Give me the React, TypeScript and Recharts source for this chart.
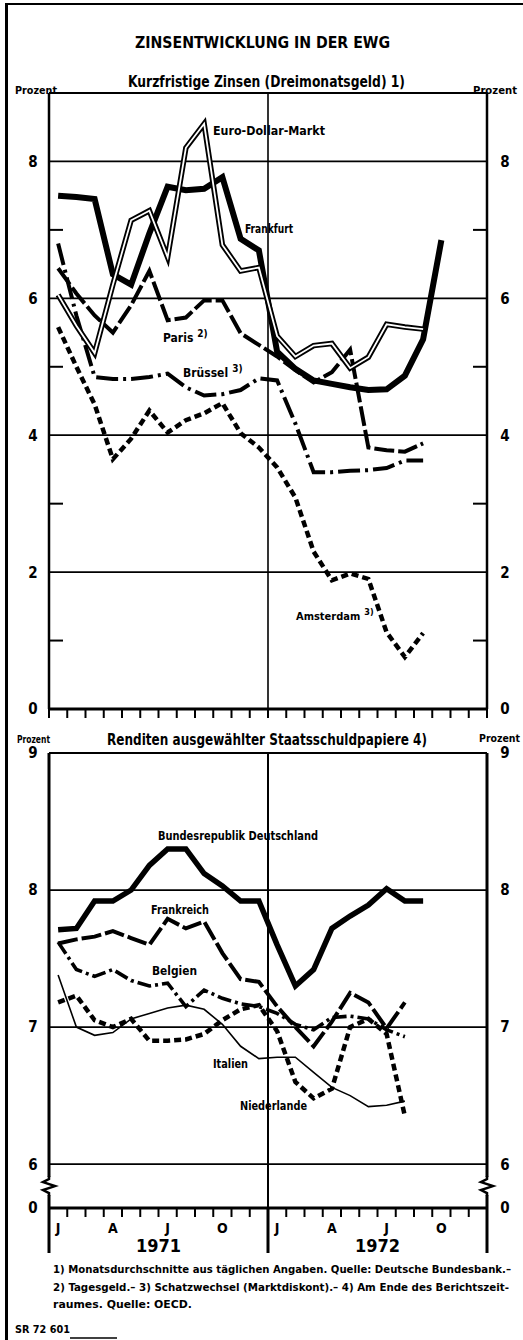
import React from 'react'
import { LineChart, Line, XAxis, YAxis, ReferenceLine } from 'recharts'

// Jan 1971 .. Dec 1972, one value per month (monthly averages / end of month)
const months = [
  'Jan 71', 'Feb 71', 'Mär 71', 'Apr 71', 'Mai 71', 'Jun 71', 'Jul 71', 'Aug 71', 'Sep 71', 'Okt 71', 'Nov 71', 'Dez 71',
  'Jan 72', 'Feb 72', 'Mär 72', 'Apr 72', 'Mai 72', 'Jun 72', 'Jul 72', 'Aug 72', 'Sep 72', 'Okt 72', 'Nov 72', 'Dez 72',
]
const quarterLabels = ['J', 'A', 'J', 'O', 'J', 'A', 'J', 'O']
const years = ['1971', '1972']

// Kurzfristige Zinsen (Dreimonatsgeld)
const frankfurt = [7.5, 7.48, 7.45, 6.35, 6.2, 6.95, 7.63, 7.58, 7.6, 7.77, 6.87, 6.7, 5.22, 4.97, 4.8, 4.75, 4.7, 4.66, 4.67, 4.87, 5.4, 6.85]
const euroDollar = [6.05, 5.6, 5.2, 6.2, 7.14, 7.28, 6.6, 8.2, 8.55, 6.78, 6.4, 6.45, 5.45, 5.15, 5.31, 5.34, 4.98, 5.14, 5.62, 5.58, 5.55]
const paris = [6.44, 6.07, 5.75, 5.5, 5.9, 6.4, 5.68, 5.72, 5.97, 5.97, 5.49, 5.32, 5.15, 4.95, 4.77, 4.92, 5.25, 3.82, 3.78, 3.76, 3.88]
const bruessel = [6.8, 5.75, 4.85, 4.82, 4.82, 4.85, 4.9, 4.7, 4.58, 4.6, 4.66, 4.83, 4.8, 4.17, 3.46, 3.46, 3.48, 3.49, 3.52, 3.63, 3.63]
const amsterdam = [5.58, 5.0, 4.45, 3.65, 3.95, 4.36, 4.04, 4.22, 4.32, 4.47, 4.03, 3.82, 3.53, 3.09, 2.3, 1.88, 1.98, 1.9, 1.12, 0.76, 1.11]

// Renditen ausgewählter Staatsschuldpapiere
const brd = [7.71, 7.72, 7.92, 7.92, 8.0, 8.18, 8.3, 8.3, 8.12, 8.03, 7.92, 7.92, 7.6, 7.3, 7.42, 7.72, 7.81, 7.89, 8.01, 7.92, 7.92]
const frankreich = [7.61, 7.64, 7.66, 7.7, 7.65, 7.6, 7.79, 7.72, 7.77, 7.54, 7.35, 7.33, 7.15, 7.0, 6.86, 7.04, 7.25, 7.18, 6.99, 7.18]
const belgien = [7.62, 7.42, 7.37, 7.42, 7.34, 7.3, 7.32, 7.15, 7.27, 7.21, 7.17, 7.15, 7.1, 7.02, 6.98, 7.07, 7.08, 7.06, 6.98, 6.93]
const italien = [7.38, 7.0, 6.94, 6.96, 7.06, 7.1, 7.14, 7.16, 7.13, 7.02, 6.86, 6.77, 6.78, 6.78, 6.67, 6.56, 6.5, 6.42, 6.43, 6.46]
const niederlande = [7.18, 7.23, 7.05, 7.0, 7.06, 6.9, 6.9, 6.91, 6.95, 7.05, 7.13, 7.16, 6.97, 6.6, 6.48, 6.55, 7.0, 7.06, 6.95, 6.35]

const topTicks = [0, 2, 4, 6, 8]
const topMinor = [1, 3, 5, 7]
const bottomTicks = [5.68, 6, 7, 8, 9] // lowest one stands for the broken "0"

const FONT = "'DejaVu Sans Condensed', 'Liberation Sans Narrow', 'DejaVu Sans', sans-serif"
const INK = '#000'

const monthEdges = [...months.map((_, i) => i), months.length]
const quarterPos = quarterLabels.map((_, i) => i * 3 + 0.5)
const bottomXTicks = [...monthEdges, ...quarterPos].sort((a, b) => a - b)

const topData = months.map((month, i) => ({
  m: i + 0.5,
  month,
  frankfurt: frankfurt[i],
  euroDollar: euroDollar[i],
  paris: paris[i],
  bruessel: bruessel[i],
  amsterdam: amsterdam[i],
}))

const bottomData = months.map((month, i) => ({
  m: i + 0.5,
  month,
  brd: brd[i],
  frankreich: frankreich[i],
  belgien: belgien[i],
  italien: italien[i],
  niederlande: niederlande[i],
}))

type TxtProps = {
  x: number
  y: number
  w?: number
  size: number
  anchor?: 'start' | 'middle' | 'end'
  weight?: number
  children: React.ReactNode
}

function Txt({ x, y, w, size, anchor = 'start', weight = 700, children }: TxtProps) {
  return (
    <text
      x={x}
      y={y}
      fontSize={size}
      fontWeight={weight}
      fontFamily={FONT}
      textAnchor={anchor}
      fill={INK}
      {...(w ? { textLength: w, lengthAdjust: 'spacingAndGlyphs' } : {})}
    >
      {children}
    </text>
  )
}

// series label with a raised footnote mark, kept as one text
function Note({ x, y, size, name, mark }: { x: number; y: number; size: number; name: string; mark: string }) {
  return (
    <text x={x} y={y} fontSize={size} fontWeight={700} fontFamily={FONT} fill={INK}>
      <tspan>{name}</tspan>
      <tspan dx={4} dy={-5} fontSize={size - 2}>{mark}</tspan>
    </text>
  )
}

function numTick(fmt: (v: number) => string) {
  return (p: any) => (
    <text x={p.x} y={p.y} dy="0.36em" textAnchor="middle" fontSize={15} fontWeight={700} fontFamily={FONT} fill={INK}>
      {fmt(p.payload.value)}
    </text>
  )
}

const blank = () => ''

function BreakMark(p: any) {
  const { x, y } = p
  return (
    <g>
      <rect x={x - 4} y={y - 9} width={8} height={18} fill="#fff" />
      <path
        d={`M${x},${y - 10} L${x},${y - 7} L${x - 6},${y - 4} L${x + 6},${y} L${x - 6},${y + 4} L${x},${y + 7} L${x},${y + 10}`}
        fill="none"
        stroke={INK}
        strokeWidth={2.5}
      />
    </g>
  )
}

function BottomTick(p: any) {
  const { x, y, payload } = p
  const v: number = payload.value
  if (Number.isInteger(v)) {
    const long = v % 12 === 0
    return (
      <g>
        <line x1={x} x2={x} y1={y} y2={y + (long ? 45 : 9)} stroke={INK} strokeWidth={long ? 3 : 2} />
        {v % 12 === 6 && (
          <text x={x} y={y + 44} textAnchor="middle" fontSize={18} fontWeight={700} fontFamily={FONT} fill={INK}>
            {years[(v - 6) / 12]}
          </text>
        )}
      </g>
    )
  }
  return (
    <text x={x} y={y + 25} textAnchor="middle" fontSize={14} fontWeight={700} fontFamily={FONT} fill={INK}>
      {quarterLabels[(v - 0.5) / 3]}
    </text>
  )
}

const lineBase = { type: 'linear' as const, dot: false, activeDot: false, isAnimationActive: false, yAxisId: 'l', xAxisId: 'x' }

function TopChart() {
  return (
    <LineChart width={523} height={730} data={topData} margin={{ top: 93, right: 0, bottom: 0, left: 9 }}>
      <XAxis
        xAxisId="x"
        type="number"
        dataKey="m"
        domain={[0, 24]}
        ticks={monthEdges}
        interval={0}
        height={21}
        tickSize={9}
        tickFormatter={blank}
        axisLine={{ stroke: INK, strokeWidth: 3 }}
        tickLine={{ stroke: INK, strokeWidth: 2 }}
      />
      <YAxis
        yAxisId="l"
        type="number"
        domain={[0, 9]}
        allowDataOverflow
        ticks={topTicks}
        interval={0}
        width={40}
        tickSize={0}
        tickMargin={16}
        tick={numTick((v) => String(v))}
        axisLine={{ stroke: INK, strokeWidth: 2.5 }}
      />
      <YAxis
        yAxisId="r"
        orientation="right"
        type="number"
        domain={[0, 9]}
        allowDataOverflow
        ticks={topTicks}
        interval={0}
        width={36}
        tickSize={0}
        tickMargin={18}
        tick={numTick((v) => String(v))}
        axisLine={{ stroke: INK, strokeWidth: 2.5 }}
      />
      <YAxis
        yAxisId="ml"
        mirror
        type="number"
        domain={[0, 9]}
        allowDataOverflow
        ticks={topMinor}
        interval={0}
        tickSize={14}
        tickFormatter={blank}
        axisLine={false}
        tickLine={{ stroke: INK, strokeWidth: 2 }}
      />
      <YAxis
        yAxisId="mr"
        mirror
        orientation="right"
        type="number"
        domain={[0, 9]}
        allowDataOverflow
        ticks={topMinor}
        interval={0}
        tickSize={14}
        tickFormatter={blank}
        axisLine={false}
        tickLine={{ stroke: INK, strokeWidth: 2 }}
      />
      {[2, 4, 6, 8].map((v) => (
        <ReferenceLine key={v} yAxisId="l" xAxisId="x" y={v} stroke={INK} strokeWidth={1.8} />
      ))}
      <ReferenceLine yAxisId="l" xAxisId="x" y={9} stroke={INK} strokeWidth={2} />
      <ReferenceLine yAxisId="l" xAxisId="x" x={12} stroke={INK} strokeWidth={1.6} />

      <Line {...lineBase} dataKey="amsterdam" stroke={INK} strokeWidth={4.5} strokeDasharray="7 4" />
      <Line {...lineBase} dataKey="bruessel" stroke={INK} strokeWidth={4} strokeDasharray="22 5 3 5" />
      <Line {...lineBase} dataKey="paris" stroke={INK} strokeWidth={4} strokeDasharray="20 4" />
      <Line {...lineBase} dataKey="frankfurt" stroke={INK} strokeWidth={6} />
      <Line {...lineBase} dataKey="euroDollar" stroke={INK} strokeWidth={5.5} />
      <Line {...lineBase} dataKey="euroDollar" stroke="#fff" strokeWidth={1.8} />
    </LineChart>
  )
}

function BottomChart() {
  return (
    <LineChart width={523} height={540} data={bottomData} margin={{ top: 23, right: 0, bottom: 0, left: 9 }}>
      <XAxis
        xAxisId="x"
        type="number"
        dataKey="m"
        domain={[0, 24]}
        ticks={bottomXTicks}
        interval={0}
        height={62}
        tickSize={0}
        tickMargin={0}
        tick={BottomTick}
        tickLine={false}
        axisLine={{ stroke: INK, strokeWidth: 3 }}
      />
      <YAxis
        yAxisId="l"
        type="number"
        domain={[5.68, 9]}
        allowDataOverflow
        ticks={bottomTicks}
        interval={0}
        width={40}
        tickSize={0}
        tickMargin={16}
        tick={numTick((v) => (v < 6 ? '0' : String(v)))}
        axisLine={{ stroke: INK, strokeWidth: 3 }}
      />
      <YAxis
        yAxisId="r"
        orientation="right"
        type="number"
        domain={[5.68, 9]}
        allowDataOverflow
        ticks={bottomTicks}
        interval={0}
        width={36}
        tickSize={0}
        tickMargin={18}
        tick={numTick((v) => (v < 6 ? '0' : String(v)))}
        axisLine={{ stroke: INK, strokeWidth: 3 }}
      />
      <YAxis
        yAxisId="bl"
        mirror
        type="number"
        domain={[5.68, 9]}
        allowDataOverflow
        ticks={[5.84]}
        interval={0}
        tickSize={0}
        tickMargin={0}
        tick={BreakMark}
        tickLine={false}
        axisLine={false}
      />
      <YAxis
        yAxisId="br"
        mirror
        orientation="right"
        type="number"
        domain={[5.68, 9]}
        allowDataOverflow
        ticks={[5.84]}
        interval={0}
        tickSize={0}
        tickMargin={0}
        tick={BreakMark}
        tickLine={false}
        axisLine={false}
      />
      {[6, 7, 8].map((v) => (
        <ReferenceLine key={v} yAxisId="l" xAxisId="x" y={v} stroke={INK} strokeWidth={1.8} />
      ))}
      <ReferenceLine yAxisId="l" xAxisId="x" y={9} stroke={INK} strokeWidth={2} />
      <ReferenceLine yAxisId="l" xAxisId="x" x={12} stroke={INK} strokeWidth={2} />

      <Line {...lineBase} dataKey="italien" stroke={INK} strokeWidth={1.6} />
      <Line {...lineBase} dataKey="niederlande" stroke={INK} strokeWidth={4.5} strokeDasharray="7 4" />
      <Line {...lineBase} dataKey="belgien" stroke={INK} strokeWidth={3.6} strokeDasharray="14 4 3 4" />
      <Line {...lineBase} dataKey="frankreich" stroke={INK} strokeWidth={4} strokeDasharray="20 4" />
      <Line {...lineBase} dataKey="brd" stroke={INK} strokeWidth={5.5} />
    </LineChart>
  )
}

export default function App() {
  return (
    <div style={{ position: 'absolute', left: 0, top: 0, width: 523, height: 1340, background: '#fff', overflow: 'hidden' }}>
      <div
        style={{
          position: 'absolute',
          left: 5,
          top: 3,
          width: 530,
          height: 1345,
          borderLeft: `3px solid ${INK}`,
          borderTop: `2px solid ${INK}`,
        }}
      />
      <div style={{ position: 'absolute', left: 0, top: 0 }}>
        <TopChart />
      </div>
      <div style={{ position: 'absolute', left: 0, top: 730 }}>
        <BottomChart />
      </div>
      <svg width={523} height={1340} style={{ position: 'absolute', left: 0, top: 0, pointerEvents: 'none' }}>
        <Txt x={135} y={48} w={255} size={16}>ZINSENTWICKLUNG IN DER EWG</Txt>

        <Txt x={128} y={87} w={277} size={15}>Kurzfristige Zinsen (Dreimonatsgeld) 1)</Txt>
        <Txt x={15} y={94} w={42} size={11}>Prozent</Txt>
        <Txt x={473} y={94} w={44} size={11}>Prozent</Txt>

        <Txt x={213} y={135} w={112} size={12}>Euro-Dollar-Markt</Txt>
        <Txt x={245} y={233} w={48} size={12}>Frankfurt</Txt>
        <Note x={163} y={342} size={12} name="Paris" mark="2)" />
        <Note x={183} y={377} size={12} name="Brüssel" mark="3)" />
        <Note x={296} y={620} size={11} name="Amsterdam" mark="3)" />

        <Txt x={107} y={745} w={320} size={15}>Renditen ausgewählter Staatsschuldpapiere 4)</Txt>
        <Txt x={17} y={743} w={33} size={11}>Prozent</Txt>
        <Txt x={479} y={742} w={41} size={11}>Prozent</Txt>

        <Txt x={158} y={840} w={160} size={12}>Bundesrepublik Deutschland</Txt>
        <Txt x={151} y={914} w={58} size={12}>Frankreich</Txt>
        <Txt x={152} y={975} w={45} size={12}>Belgien</Txt>
        <Txt x={213} y={1068} w={35} size={12}>Italien</Txt>
        <Txt x={240} y={1110} w={67} size={12}>Niederlande</Txt>

        <Txt x={53} y={1273} w={458} size={11}>1) Monatsdurchschnitte aus täglichen Angaben. Quelle: Deutsche Bundesbank.–</Txt>
        <Txt x={53} y={1291} w={456} size={11}>2) Tagesgeld.– 3) Schatzwechsel (Marktdiskont).– 4) Am Ende des Berichtszeit-</Txt>
        <Txt x={53} y={1308} w={139} size={11}>raumes. Quelle: OECD.</Txt>

        <Txt x={15} y={1333} w={55} size={10}>SR 72 601</Txt>
        <line x1={70} x2={117} y1={1338} y2={1338} stroke={INK} strokeWidth={1.5} />
      </svg>
    </div>
  )
}
